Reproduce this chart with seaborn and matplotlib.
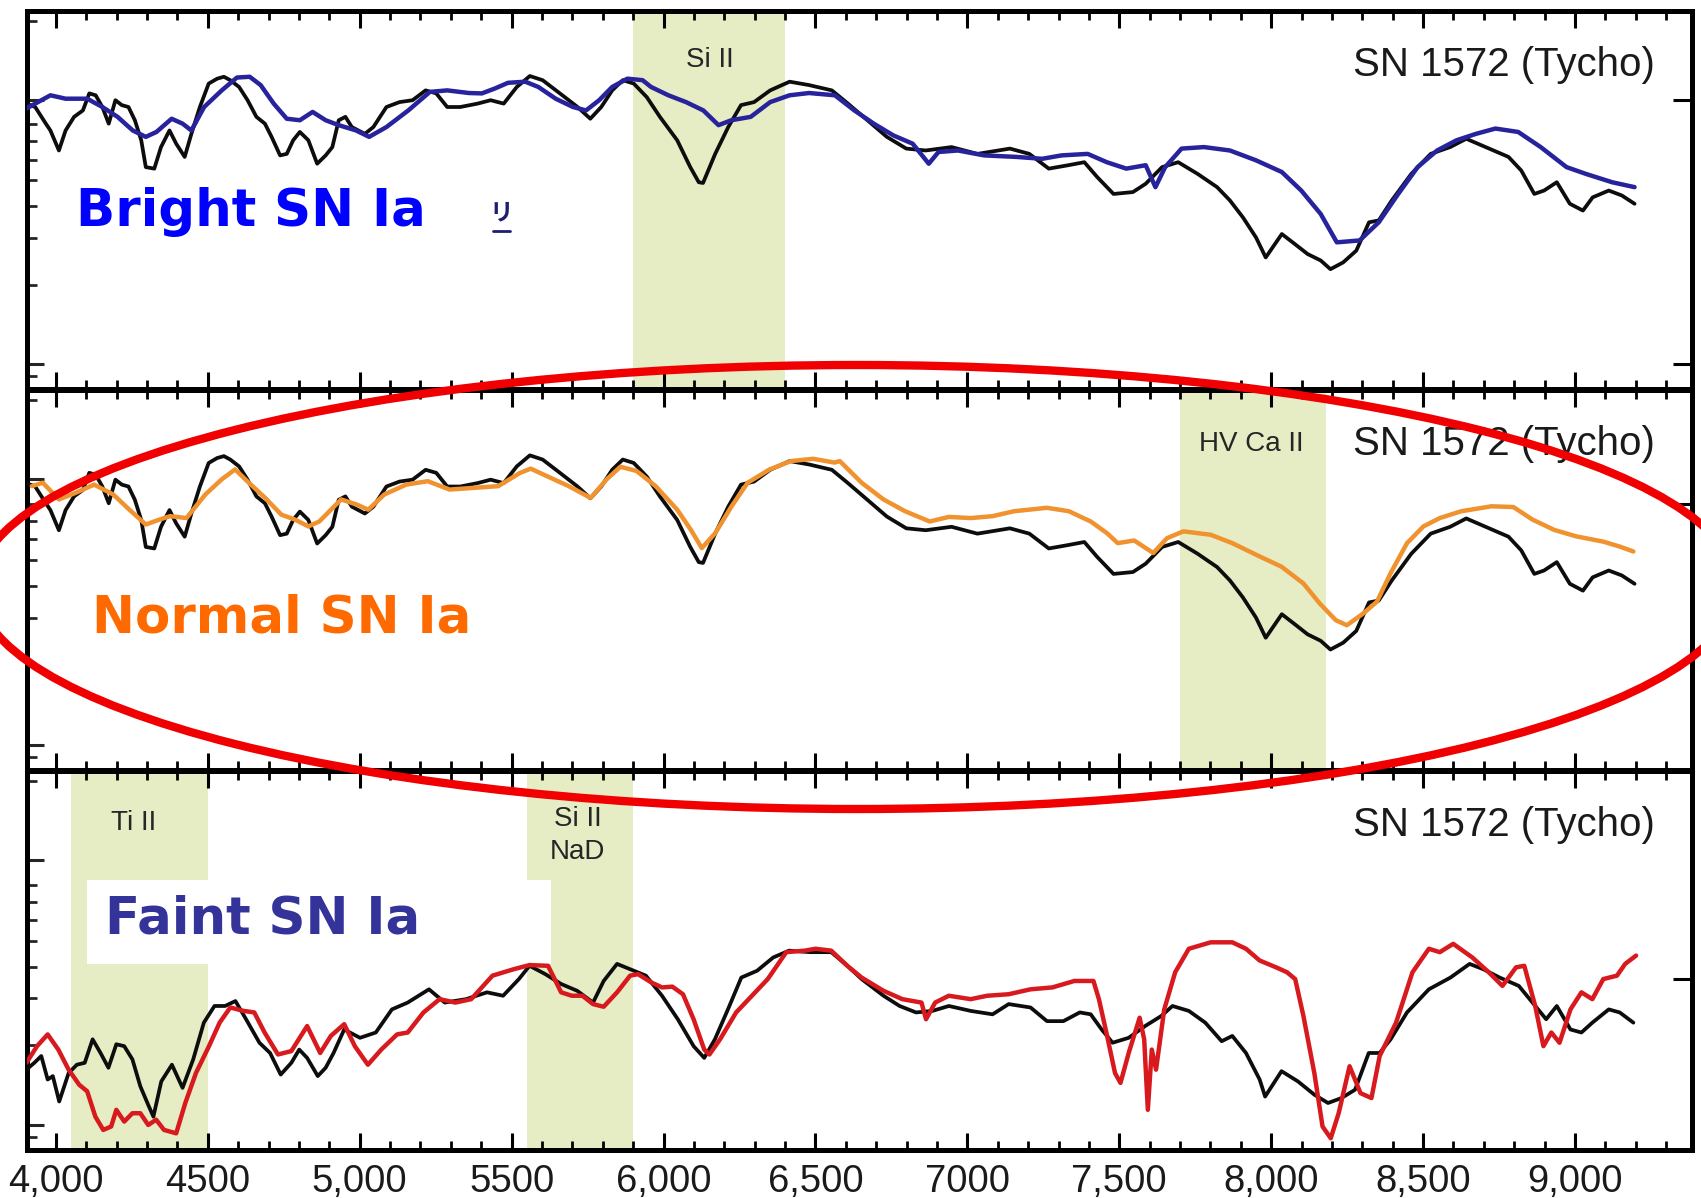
import matplotlib
matplotlib.use("Agg")
import matplotlib.pyplot as plt
from matplotlib.patches import Ellipse, Rectangle
from matplotlib.lines import Line2D
from matplotlib.ticker import MultipleLocator, FixedLocator
import pandas as pd
import seaborn as sns

# ---------------- data (flux in panel-relative units) -------------
tycho_wl = [3903, 3932, 3967, 3982, 4010, 4032, 4060, 4089, 4110, 4131, 4153, 4174, 4196, 4217,
            4239, 4260, 4281, 4296, 4324, 4346, 4374, 4396, 4424, 4446, 4474, 4503, 4531, 4553,
            4574, 4603, 4631, 4660, 4688, 4710, 4738, 4760, 4781, 4803, 4831, 4860, 4888, 4910,
            4931, 4953, 4974, 5017, 5045, 5088, 5131, 5174, 5217, 5252, 5288, 5331, 5388, 5431,
            5474, 5517, 5560, 5602, 5659, 5717, 5759, 5795, 5831, 5866, 5902, 5945, 5988, 6045,
            6088, 6116, 6130, 6170, 6213, 6255, 6298, 6351, 6415, 6479, 6554, 6607, 6671, 6735,
            6799, 6863, 6948, 7033, 7140, 7204, 7268, 7332, 7385, 7427, 7481, 7545, 7587, 7641,
            7694, 7758, 7822, 7864, 7907, 7950, 7982, 8035, 8077, 8120, 8163, 8195, 8237, 8280,
            8322, 8354, 8397, 8461, 8525, 8589, 8642, 8706, 8781, 8823, 8866, 8898, 8940, 8983,
            9026, 9058, 9111, 9154, 9196]
tycho_flux = [0.755, 0.746, 0.702, 0.684, 0.631, 0.684, 0.720, 0.737, 0.782, 0.777, 0.746, 0.702,
              0.764, 0.751, 0.746, 0.711, 0.658, 0.587, 0.583, 0.640, 0.684, 0.649, 0.614, 0.675,
              0.746, 0.808, 0.821, 0.826, 0.817, 0.799, 0.764, 0.720, 0.702, 0.667, 0.618, 0.622,
              0.658, 0.680, 0.658, 0.596, 0.618, 0.640, 0.711, 0.720, 0.693, 0.675, 0.693, 0.746,
              0.759, 0.764, 0.790, 0.782, 0.746, 0.746, 0.755, 0.764, 0.755, 0.799, 0.828, 0.817,
              0.782, 0.746, 0.715, 0.746, 0.790, 0.817, 0.808, 0.772, 0.720, 0.658, 0.587, 0.547,
              0.545, 0.622, 0.693, 0.751, 0.759, 0.790, 0.813, 0.804, 0.790, 0.755, 0.711, 0.667,
              0.636, 0.631, 0.640, 0.622, 0.636, 0.622, 0.583, 0.592, 0.600, 0.561, 0.516, 0.521,
              0.543, 0.587, 0.600, 0.569, 0.534, 0.499, 0.454, 0.401, 0.348, 0.410, 0.384, 0.357,
              0.340, 0.317, 0.335, 0.366, 0.441, 0.446, 0.499, 0.569, 0.622, 0.640, 0.662, 0.640,
              0.614, 0.578, 0.516, 0.525, 0.547, 0.490, 0.472, 0.507, 0.525, 0.512, 0.490]

bright_wl = [3903, 3932, 3982, 4032, 4103, 4153, 4203, 4253, 4296, 4331, 4381, 4417, 4446, 4488,
             4546, 4596, 4638, 4674, 4717, 4760, 4803, 4845, 4888, 4931, 4988, 5031, 5088, 5160,
             5231, 5288, 5360, 5402, 5445, 5488, 5545, 5588, 5645, 5702, 5745, 5788, 5831, 5881,
             5931, 5959, 6016, 6074, 6131, 6181, 6223, 6287, 6351, 6415, 6479, 6564, 6628, 6692,
             6756, 6820, 6873, 6905, 6969, 7055, 7161, 7246, 7310, 7396, 7459, 7523, 7587, 7619,
             7651, 7705, 7779, 7864, 7950, 8035, 8099, 8163, 8216, 8291, 8354, 8418, 8482, 8546,
             8610, 8674, 8738, 8813, 8887, 8972, 9036, 9122, 9196]
bright_flux = [0.742, 0.755, 0.777, 0.768, 0.768, 0.746, 0.720, 0.684, 0.667, 0.680, 0.715, 0.702,
               0.684, 0.746, 0.790, 0.824, 0.826, 0.804, 0.755, 0.715, 0.711, 0.733, 0.711, 0.698,
               0.684, 0.667, 0.693, 0.737, 0.786, 0.790, 0.783, 0.782, 0.795, 0.810, 0.813, 0.799,
               0.768, 0.746, 0.737, 0.764, 0.799, 0.821, 0.817, 0.799, 0.777, 0.759, 0.737, 0.698,
               0.711, 0.720, 0.759, 0.777, 0.783, 0.777, 0.737, 0.702, 0.671, 0.649, 0.596, 0.627,
               0.631, 0.618, 0.614, 0.609, 0.618, 0.622, 0.600, 0.583, 0.592, 0.534, 0.587, 0.636,
               0.640, 0.631, 0.605, 0.574, 0.525, 0.463, 0.388, 0.393, 0.441, 0.516, 0.587, 0.631,
               0.658, 0.675, 0.689, 0.680, 0.640, 0.587, 0.569, 0.547, 0.534]

normal_wl = [3921, 3957, 4010, 4064, 4126, 4189, 4242, 4296, 4341, 4376, 4430, 4492, 4546, 4590,
             4635, 4689, 4742, 4787, 4831, 4867, 4939, 4992, 5028, 5081, 5153, 5224, 5296, 5367,
             5456, 5528, 5563, 5617, 5688, 5760, 5813, 5858, 5911, 5974, 6045, 6090, 6126, 6170,
             6224, 6277, 6349, 6420, 6492, 6563, 6580, 6652, 6724, 6795, 6876, 6939, 7011, 7083,
             7154, 7262, 7334, 7406, 7460, 7495, 7549, 7612, 7657, 7711, 7801, 7872, 7962, 8034,
             8106, 8160, 8213, 8249, 8303, 8348, 8393, 8447, 8501, 8555, 8626, 8725, 8797, 8860,
             8931, 9003, 9093, 9147, 9192]
normal_flux = [0.747, 0.756, 0.712, 0.729, 0.751, 0.725, 0.685, 0.646, 0.659, 0.668, 0.663, 0.725,
               0.765, 0.791, 0.756, 0.716, 0.672, 0.659, 0.641, 0.654, 0.712, 0.698, 0.685, 0.725,
               0.751, 0.760, 0.738, 0.742, 0.747, 0.782, 0.793, 0.773, 0.747, 0.716, 0.765, 0.798,
               0.787, 0.747, 0.685, 0.632, 0.584, 0.623, 0.694, 0.756, 0.791, 0.813, 0.819, 0.809,
               0.813, 0.756, 0.712, 0.681, 0.654, 0.666, 0.663, 0.668, 0.681, 0.690, 0.681, 0.654,
               0.623, 0.597, 0.604, 0.571, 0.610, 0.628, 0.619, 0.597, 0.562, 0.535, 0.491, 0.438,
               0.394, 0.381, 0.412, 0.443, 0.518, 0.597, 0.641, 0.663, 0.681, 0.694, 0.692, 0.659,
               0.632, 0.615, 0.601, 0.588, 0.575]

tycho_faint_wl = [3903, 3929, 3952, 3973, 3990, 4011, 4042, 4069, 4095, 4121, 4147, 4173, 4199,
                  4225, 4252, 4278, 4304, 4321, 4347, 4382, 4417, 4452, 4487, 4522, 4557, 4591,
                  4626, 4670, 4705, 4740, 4775, 4801, 4827, 4862, 4888, 4914, 4949, 5001, 5053,
                  5106, 5158, 5228, 5280, 5350, 5419, 5472, 5524, 5559, 5611, 5663, 5716, 5768,
                  5803, 5847, 5890, 5942, 5995, 6047, 6099, 6134, 6169, 6212, 6256, 6308, 6361,
                  6413, 6483, 6552, 6605, 6652, 6724, 6777, 6831, 6885, 6939, 7011, 7083, 7136,
                  7208, 7262, 7316, 7370, 7406, 7442, 7478, 7531, 7585, 7639, 7675, 7729, 7783,
                  7837, 7872, 7917, 7962, 7980, 8034, 8088, 8142, 8187, 8231, 8276, 8321, 8357,
                  8393, 8447, 8519, 8590, 8653, 8698, 8752, 8815, 8860, 8905, 8940, 8985, 9021,
                  9057, 9111, 9147, 9192]
tycho_faint_flux = [0.212, 0.230, 0.248, 0.186, 0.195, 0.128, 0.203, 0.225, 0.230, 0.292, 0.256,
                    0.217, 0.279, 0.274, 0.239, 0.168, 0.119, 0.088, 0.181, 0.225, 0.164, 0.239,
                    0.336, 0.380, 0.380, 0.393, 0.345, 0.283, 0.256, 0.199, 0.230, 0.265, 0.243,
                    0.195, 0.217, 0.256, 0.318, 0.296, 0.310, 0.371, 0.389, 0.424, 0.389, 0.398,
                    0.416, 0.407, 0.451, 0.486, 0.464, 0.438, 0.420, 0.389, 0.446, 0.491, 0.477,
                    0.460, 0.407, 0.345, 0.274, 0.243, 0.292, 0.371, 0.455, 0.473, 0.508, 0.526,
                    0.522, 0.522, 0.486, 0.451, 0.407, 0.380, 0.363, 0.367, 0.380, 0.367, 0.358,
                    0.385, 0.376, 0.340, 0.340, 0.363, 0.358, 0.318, 0.283, 0.296, 0.327, 0.354,
                    0.380, 0.367, 0.336, 0.287, 0.301, 0.256, 0.186, 0.141, 0.208, 0.181, 0.146,
                    0.124, 0.137, 0.159, 0.256, 0.256, 0.292, 0.363, 0.424, 0.455, 0.491, 0.477,
                    0.455, 0.433, 0.389, 0.345, 0.380, 0.318, 0.310, 0.336, 0.371, 0.363, 0.336]

faint_wl = [3903, 3938, 3973, 4008, 4042, 4077, 4103, 4130, 4156, 4182, 4199, 4225, 4252, 4278,
            4304, 4330, 4356, 4396, 4426, 4461, 4504, 4539, 4574, 4618, 4653, 4687, 4731, 4775,
            4827, 4870, 4905, 4949, 4984, 5027, 5071, 5123, 5158, 5210, 5263, 5315, 5367, 5437,
            5507, 5559, 5620, 5663, 5698, 5733, 5768, 5803, 5847, 5890, 5916, 5960, 5995, 6029,
            6064, 6099, 6134, 6151, 6186, 6239, 6291, 6343, 6404, 6465, 6500, 6552, 6605, 6652,
            6724, 6786, 6849, 6864, 6894, 6939, 7011, 7065, 7136, 7208, 7280, 7352, 7415, 7433,
            7460, 7486, 7504, 7531, 7567, 7582, 7594, 7607, 7621, 7648, 7684, 7729, 7801, 7872,
            7917, 7962, 8016, 8052, 8079, 8106, 8142, 8169, 8196, 8222, 8258, 8294, 8330, 8357,
            8411, 8465, 8519, 8555, 8599, 8662, 8716, 8761, 8806, 8833, 8869, 8896, 8922, 8949,
            8985, 9021, 9057, 9093, 9138, 9165, 9201]
faint_flux = [0.230, 0.274, 0.305, 0.265, 0.212, 0.172, 0.155, 0.088, 0.053, 0.062, 0.106, 0.075,
              0.097, 0.097, 0.066, 0.080, 0.053, 0.044, 0.124, 0.203, 0.274, 0.336, 0.376, 0.367,
              0.363, 0.310, 0.252, 0.261, 0.327, 0.256, 0.301, 0.332, 0.274, 0.225, 0.265, 0.305,
              0.310, 0.363, 0.398, 0.389, 0.398, 0.460, 0.477, 0.488, 0.486, 0.416, 0.407, 0.407,
              0.385, 0.378, 0.416, 0.460, 0.464, 0.442, 0.429, 0.431, 0.411, 0.345, 0.265, 0.252,
              0.292, 0.363, 0.407, 0.451, 0.522, 0.526, 0.531, 0.526, 0.486, 0.455, 0.420, 0.398,
              0.389, 0.345, 0.389, 0.407, 0.398, 0.407, 0.411, 0.424, 0.429, 0.446, 0.446, 0.398,
              0.301, 0.203, 0.177, 0.256, 0.349, 0.292, 0.106, 0.265, 0.212, 0.371, 0.469, 0.531,
              0.548, 0.548, 0.531, 0.500, 0.482, 0.469, 0.451, 0.354, 0.203, 0.062, 0.031, 0.097,
              0.221, 0.150, 0.137, 0.248, 0.336, 0.469, 0.531, 0.522, 0.544, 0.508, 0.469, 0.433,
              0.482, 0.486, 0.380, 0.274, 0.310, 0.283, 0.371, 0.416, 0.398, 0.451, 0.460, 0.491,
              0.513]

x_ticks = [4000, 4500, 5000, 5500, 6000, 6500, 7000, 7500, 8000, 8500, 9000]
x_tick_labels = ["4,000", "4500", "5,000", "5500", "6,000", "6,500", "7000",
                 "7,500", "8,000", "8,500", "9,000"]

panel_titles = ["Bright SN Ia", "Normal SN Ia", "Faint SN Ia"]
reference_name = "SN 1572 (Tycho)"
band_ranges = [[(5900, 6400)], [(7700, 8180)], [(4050, 4500), (5550, 5900)]]
band_texts = [[("Si II", 6154, 0.871)], [("HV Ca II", 7933, 0.858)],
              [("Ti II", 4257, 0.863), ("Si II", 5718, 0.873), ("NaD", 5718, 0.786)]]

# ---------------- styling ----------------
sns.set_style("white")
plt.rcParams["font.family"] = ["Liberation Sans", "DejaVu Sans"]

W, H = 1701, 1198
fig = plt.figure(figsize=(W / 100, H / 100), dpi=100)
fig.patch.set_facecolor("white")

L, R = 27 / W, 1692 / W
panel_px = [(11, 389), (390, 770), (771, 1150)]

black_df = pd.DataFrame({"wl": tycho_wl, "flux": tycho_flux})
curves = [
    (black_df, pd.DataFrame({"wl": bright_wl, "flux": bright_flux}), "#27239c"),
    (black_df, pd.DataFrame({"wl": normal_wl, "flux": normal_flux}), "#f0922e"),
    (pd.DataFrame({"wl": tycho_faint_wl, "flux": tycho_faint_flux}),
     pd.DataFrame({"wl": faint_wl, "flux": faint_flux}), "#d81a1f"),
]
title_colors = ["#0000ff", "#ff6a00", "#333399"]
title_pos = [(0.0294, 0.431), (0.039, 0.361), (0.047, 0.570)]
left_major = [0.067, 0.765]
left_minor = [0.035, 0.276, 0.40, 0.484, 0.552, 0.607, 0.655, 0.70, 0.974]
right_ticks = [[0.067, 0.765], [0.70], [0.451]]
band_color = "#e6edc4"

axes = []
for i, (top, bot) in enumerate(panel_px):
    ax = fig.add_axes([L, 1 - bot / H, R - L, (bot - top) / H])
    axes.append(ax)
    ax.set_facecolor("white")
    ax.set_xlim(3905, 9385)
    ax.set_ylim(0, 1)

    for (a, b) in band_ranges[i]:
        ax.axvspan(a, b, color=band_color, lw=0, zorder=0)

    if i == 2:
        ax.add_patch(Rectangle((0.036, 0.491), 0.279, 0.221, transform=ax.transAxes,
                               facecolor="white", edgecolor="none", zorder=1))

    bdf, cdf, col = curves[i]
    sns.lineplot(data=bdf, x="wl", y="flux", ax=ax, color="#0d0d0d", lw=2.7,
                 estimator=None, legend=False, zorder=3)
    sns.lineplot(data=cdf, x="wl", y="flux", ax=ax, color=col, lw=3.2,
                 estimator=None, legend=False, zorder=4)
    ax.set_xlabel("")
    ax.set_ylabel("")

    for (txt, xx, yy) in band_texts[i]:
        ax.text(xx, yy, txt, transform=ax.get_xaxis_transform(), ha="center", va="center",
                fontsize=20, color="#262626", zorder=5)

    ax.text(0.978, 0.857, reference_name, transform=ax.transAxes, ha="right", va="center",
            fontsize=29, color="#1a1a1a", zorder=5)
    ax.text(title_pos[i][0], title_pos[i][1], panel_titles[i], transform=ax.transAxes,
            ha="left", va="baseline", fontsize=37, fontweight="bold",
            family=["DejaVu Sans"], color=title_colors[i], zorder=6)

    # ticks
    ax.set_xticks(x_ticks)
    ax.xaxis.set_minor_locator(MultipleLocator(100))
    ax.yaxis.set_major_locator(FixedLocator(left_major))
    ax.yaxis.set_minor_locator(FixedLocator(left_minor))
    ax.tick_params(axis="x", which="major", direction="in", length=12, width=2.2,
                   top=True, bottom=True, color="black")
    ax.tick_params(axis="x", which="minor", direction="in", length=6.5, width=2.0,
                   top=True, bottom=True, color="black")
    ax.tick_params(axis="y", which="major", direction="in", length=12, width=2.2,
                   left=True, right=False, labelleft=False)
    ax.tick_params(axis="y", which="minor", direction="in", length=7, width=2.0,
                   left=True, right=False)
    if i == 2:
        ax.set_xticklabels(x_tick_labels)
        ax.tick_params(axis="x", which="major", labelsize=27.5, pad=10, labelcolor="#1a1a1a")
    else:
        ax.tick_params(axis="x", labelbottom=False)

    sec = ax.secondary_yaxis("right")
    sec.set_yticks(right_ticks[i])
    sec.set_yticklabels([])
    sec.tick_params(direction="in", length=14, width=2.2, color="black")
    sec.spines["right"].set_linewidth(3.6)
    sec.spines["right"].set_color("black")

    for s in ax.spines.values():
        s.set_linewidth(3.6)
        s.set_color("black")
        s.set_visible(True)

# small clipped glyph fragment next to "Bright SN Ia"
axes[0].text(0.2847, 0.467, "リ", transform=axes[0].transAxes, ha="center", va="center",
             fontsize=17, family=["Noto Sans CJK JP", "DejaVu Sans"], fontweight="bold",
             color="#1e1e6e", zorder=6)
axes[0].add_line(Line2D([0.280, 0.290], [0.419, 0.419], transform=axes[0].transAxes,
                        color="#1e1e6e", lw=2, zorder=6))

# red ellipse drawn over the figure
fig.add_artist(Ellipse((857 / W, 1 - 587 / H), 1760 / W, 444 / H, transform=fig.transFigure,
                       fill=False, edgecolor="#f00000", lw=6, zorder=20, clip_on=False))

fig.savefig("out.png", dpi=100, facecolor="white")
